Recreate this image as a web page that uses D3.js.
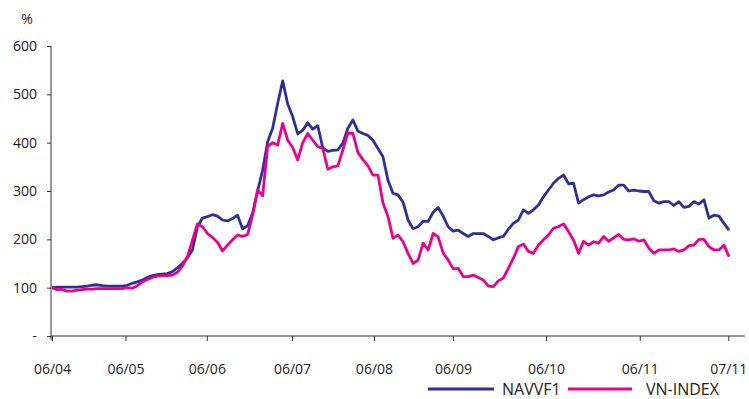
<!DOCTYPE html>
<html>
<head>
<meta charset="utf-8">
<script src="https://cdn.jsdelivr.net/npm/d3@7"></script>
<style>
  html, body { margin: 0; padding: 0; background: #fff; }
  svg { display: block; font-family: "Open Sans", "Noto Sans", sans-serif; }
</style>
</head>
<body>
<svg id="chart" width="749" height="399"></svg>
<script>
// ---- data (weekly observations, % of initial value) ----
const navvf1 = [100,101,101,101,101,101,102,103,105,106,104,103,103,103,103,105,109,112,116,121,
  125,127,128,129,133,141,150,162,178,226,244,247,251,248,240,238,243,250,222,228,
  254,300,343,402,430,481,528,480,454,418,426,441,428,435,389,382,384,385,399,430,
  447,424,419,415,405,388,371,322,295,292,277,240,222,226,237,237,256,266,248,226,
  217,219,212,206,212,212,212,206,199,203,206,221,233,240,261,254,261,271,288,302,
  316,326,333,315,316,275,282,288,292,290,292,298,302,312,312,300,302,300,299,299,
  280,275,278,278,270,278,266,268,278,273,282,244,250,248,233,219];
const vnindex = [100,96,96,93,93,95,96,97,97,98,98,98,98,98,98,100,99,104,112,117,
  121,124,125,125,126,132,144,164,198,232,226,212,204,194,176,188,199,209,206,210,
  250,302,290,392,400,395,440,405,390,364,400,419,405,392,388,345,350,352,385,420,
  419,380,365,352,333,333,275,247,202,209,195,171,150,157,192,178,212,205,172,157,
  139,140,123,123,126,121,116,103,102,114,120,140,161,185,190,175,171,188,199,209,
  223,226,232,216,198,171,196,188,195,192,206,196,203,210,200,199,201,196,199,182,
  171,178,178,178,180,175,178,187,188,200,200,185,178,178,188,164];
const seriesNames = ["NAVVF1", "VN-INDEX"];
const seriesColors = ["#2e3192", "#ec008c"];
const xTickIdx = [0, 14.66, 30.87, 47.86, 64.2, 79.96, 98.5, 117.2, 134.86];
const xTickLabels = ["06/04","06/05","06/06","06/07","06/08","06/09","06/10","06/11","07/11"];
const yTicks = [0, 100, 200, 300, 400, 500, 600];

// ---- chart ----
const svg = d3.select("#chart");
const x = d3.scaleLinear().domain([0, navvf1.length - 1]).range([52, 729]);
const y = d3.scaleLinear().domain([0, 600]).range([336, 46]);
const axisColor = "#333";

// y axis
const gy = svg.append("g").attr("transform", "translate(51,0)")
  .call(d3.axisLeft(y).tickValues(yTicks).tickSize(4).tickSizeOuter(0).tickPadding(10)
    .tickFormat(d => d === 0 ? "-" : d));
gy.select(".domain").remove();
gy.append("line").attr("x1", 0).attr("x2", 0).attr("y1", y(600)).attr("y2", 340)
  .attr("stroke", axisColor);
gy.selectAll(".tick line").attr("stroke", axisColor);
gy.selectAll(".tick text").attr("fill", "#222").style("font-size", "14px")
  .style("font-family", "'Open Sans', sans-serif");

// x axis
const gx = svg.append("g").attr("transform", "translate(0,336)")
  .call(d3.axisBottom(x).tickValues(xTickIdx).tickSize(5).tickSizeOuter(0).tickPadding(23)
    .tickFormat((d, i) => xTickLabels[i]));
gx.select(".domain").remove();
gx.append("line").attr("x1", 51).attr("x2", 745).attr("y1", 0).attr("y2", 0)
  .attr("stroke", axisColor);
gx.selectAll(".tick line").attr("stroke", axisColor);
gx.selectAll(".tick text").attr("fill", "#222").style("font-size", "14px")
  .style("font-family", "'Open Sans', sans-serif");

// unit label
svg.append("text").attr("x", 27).attr("y", 24).attr("text-anchor", "middle")
  .style("font-size", "14px").attr("fill", "#222").text("%");

// lines
const line = d3.line().x((d, i) => x(i)).y(d => y(d));
[navvf1, vnindex].forEach((s, k) => {
  svg.append("path").datum(s).attr("d", line)
    .attr("fill", "none").attr("stroke", seriesColors[k]).attr("stroke-width", 2.8)
    .attr("stroke-linejoin", "round");
});

// legend
const legend = [
  {x1: 428, x2: 494, tx: 502},
  {x1: 568, x2: 632, tx: 646}
];
legend.forEach((l, k) => {
  svg.append("line").attr("x1", l.x1).attr("x2", l.x2).attr("y1", 389).attr("y2", 389)
    .attr("stroke", seriesColors[k]).attr("stroke-width", 2.8);
  svg.append("text").attr("x", l.tx).attr("y", 395).style("font-size", "16px")
    .attr("fill", "#222").text(seriesNames[k]);
});
</script>
</body>
</html>
